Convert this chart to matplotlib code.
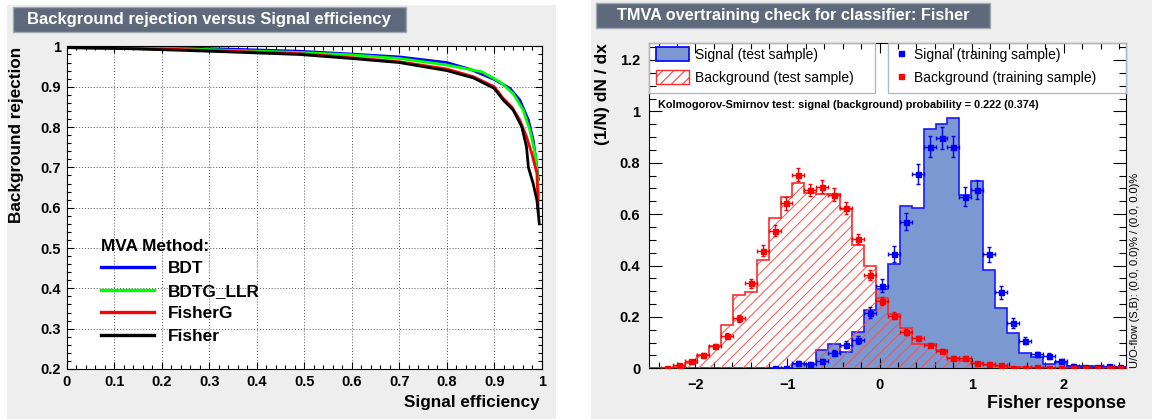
import matplotlib
matplotlib.use('Agg')
import matplotlib.pyplot as plt
import numpy as np
from matplotlib.patches import Rectangle, Patch
from matplotlib.lines import Line2D
from matplotlib.ticker import MultipleLocator, FuncFormatter

plt.rcParams['font.family'] = ['Liberation Sans', 'DejaVu Sans']
plt.rcParams['font.weight'] = 'bold'
plt.rcParams['hatch.linewidth'] = 0.7
plt.rcParams['axes.unicode_minus'] = True

# ---------------- ROC curves (left) ----------------
methods = ['BDT', 'BDTG_LLR', 'FisherG', 'Fisher']
method_colors = ['#0000ff', '#00ff00', '#ff0000', '#000000']

bdt_eff = [0.0, 0.05, 0.14, 0.25, 0.35, 0.49, 0.6, 0.7, 0.8, 0.85, 0.9, 0.933, 0.954, 0.972, 0.982, 0.99, 0.993]
bdt_rej = [1.0, 1.0, 0.999, 0.996, 0.993, 0.988, 0.981, 0.974, 0.96, 0.943, 0.918, 0.896, 0.867, 0.817, 0.768, 0.70, 0.67]

bdtg_eff = [0.0, 0.05, 0.14, 0.25, 0.35, 0.49, 0.6, 0.7, 0.8, 0.874, 0.912, 0.94, 0.961, 0.975, 0.986, 0.991, 0.994]
bdtg_rej = [1.0, 0.998, 0.997, 0.994, 0.99, 0.985, 0.979, 0.97, 0.954, 0.937, 0.912, 0.883, 0.842, 0.793, 0.735, 0.685, 0.623]

fisherg_eff = [0.0, 0.05, 0.14, 0.25, 0.35, 0.49, 0.6, 0.7, 0.8, 0.856, 0.9, 0.919, 0.937, 0.954, 0.968, 0.979, 0.99, 0.993]
fisherg_rej = [0.997, 0.996, 0.995, 0.992, 0.988, 0.982, 0.972, 0.962, 0.944, 0.925, 0.9, 0.871, 0.85, 0.817, 0.776, 0.735, 0.685, 0.587]

fisher_eff = [0.0, 0.05, 0.14, 0.25, 0.35, 0.49, 0.6, 0.7, 0.8, 0.856, 0.9, 0.919, 0.94, 0.958, 0.968, 0.972, 0.982, 0.99, 0.995]
fisher_rej = [0.997, 0.996, 0.994, 0.99, 0.986, 0.98, 0.97, 0.96, 0.94, 0.922, 0.896, 0.867, 0.842, 0.801, 0.751, 0.70, 0.66, 0.618, 0.56]

# ---------------- Overtraining check (right) ----------------
x_min, x_max, n_bins = -2.50, 2.68, 40

sig_test = [0, 0, 0, 0, 0, 0, 0, 0, 0, 0,
            0.002, 0.002, 0.015, 0.017, 0.07, 0.093, 0.064, 0.141, 0.228, 0.31,
            0.405, 0.633, 0.625, 0.93, 0.95, 0.975, 0.675, 0.728, 0.383, 0.234,
            0.136, 0.061, 0.043, 0.016, 0.025, 0.01, 0.008, 0.008, 0.006, 0.005]
bkg_test = [0.0, 0.003, 0.007, 0.022, 0.05, 0.088, 0.169, 0.285, 0.296, 0.42,
            0.584, 0.668, 0.72, 0.683, 0.679, 0.677, 0.62, 0.478, 0.398, 0.272,
            0.211, 0.155, 0.093, 0.093, 0.072, 0.04, 0.03, 0.02, 0.013, 0.009,
            0.005, 0.004, 0.003, 0.002, 0.002, 0.001, 0.001, 0.0, 0.0, 0.0]

nan = np.nan
sig_train = [nan, nan, nan, nan, nan, nan, nan, nan, nan, nan,
             0.0, 0.003, 0.022, 0.017, 0.028, 0.06, 0.092, 0.11, 0.217, 0.322,
             0.445, 0.571, 0.756, 0.863, 0.895, 0.863, 0.668, 0.694, 0.444, 0.295,
             0.175, 0.108, 0.054, 0.048, 0.029, 0.01, 0.006, 0.004, 0.009, 0.004]
sig_err = [0, 0, 0, 0, 0, 0, 0, 0, 0, 0,
           0.001, 0.002, 0.007, 0.006, 0.008, 0.011, 0.014, 0.015, 0.021, 0.026,
           0.03, 0.034, 0.039, 0.042, 0.043, 0.042, 0.037, 0.037, 0.03, 0.024,
           0.019, 0.015, 0.01, 0.01, 0.008, 0.005, 0.003, 0.003, 0.004, 0.003]
bkg_train = [nan, 0.002, 0.012, 0.029, 0.052, 0.087, 0.127, 0.195, 0.331, 0.458,
             0.535, 0.642, 0.753, 0.694, 0.707, 0.675, 0.623, 0.503, 0.363, 0.262,
             0.204, 0.141, 0.117, 0.09, 0.069, 0.042, 0.039, 0.022, 0.017, 0.013,
             0.002, 0.001, 0.006, 0.001, 0.003, 0.0, 0.002, 0.0, 0.002, 0.0]
bkg_err = [0, 0.001, 0.003, 0.005, 0.007, 0.009, 0.011, 0.013, 0.017, 0.02,
           0.022, 0.024, 0.026, 0.025, 0.025, 0.025, 0.024, 0.021, 0.018, 0.015,
           0.014, 0.011, 0.01, 0.009, 0.008, 0.006, 0.006, 0.004, 0.004, 0.003,
           0.001, 0.001, 0.002, 0.001, 0.002, 0.001, 0.001, 0.001, 0.001, 0.001]

ks_text = 'Kolmogorov-Smirnov test: signal (background) probability = 0.222 (0.374)'
uoflow_text = 'U/O-flow (S,B): (0.0, 0.0)% / (0.0, 0.0)%'

# ---------------- layout helpers ----------------
W, H = 1152, 419
def fx(x):
    return x / W
def fy(y):
    return 1 - y / H

fig = plt.figure(figsize=(W / 100, H / 100), dpi=100, facecolor='white')

pad_col = '#eeeeee'
fig.patches.append(Rectangle((fx(7), fy(419)), (556 - 7) / W, (419 - 5) / H,
                             transform=fig.transFigure, fc=pad_col, ec='none', zorder=-10))
fig.patches.append(Rectangle((fx(591), fy(419)), (1152 - 591) / W, 419 / H,
                             transform=fig.transFigure, fc=pad_col, ec='none', zorder=-10))

def title_box(x0, y0, x1, y1, text, size):
    fig.patches.append(Rectangle((fx(x0), fy(y1)), (x1 - x0) / W, (y1 - y0) / H,
                                 transform=fig.transFigure, fc='#5e6a7c', ec='#a0a8b4',
                                 lw=1, zorder=1))
    fig.text(fx((x0 + x1) / 2), fy((y0 + y1) / 2), text, color='white', weight='bold',
             size=size, ha='center', va='center', zorder=2)

title_box(12.5, 7, 406, 32, 'Background rejection versus Signal efficiency', 12.0)
title_box(596, 3, 990, 28, 'TMVA overtraining check for classifier: Fisher', 11.7)

def gfmt(v, pos):
    s = f'{round(v, 3):g}'
    return s.replace('-', '\u2212')

# ---------------- left axes ----------------
ax1 = fig.add_axes([fx(66.7), fy(369), 475 / W, (369 - 46.4) / H])
ax1.set_facecolor('white')
ax1.set_xlim(0, 1)
ax1.set_ylim(0.2, 1.0)
ax1.xaxis.set_major_locator(MultipleLocator(0.1))
ax1.xaxis.set_minor_locator(MultipleLocator(0.02))
ax1.yaxis.set_major_locator(MultipleLocator(0.1))
ax1.yaxis.set_minor_locator(MultipleLocator(0.02))
ax1.xaxis.set_major_formatter(FuncFormatter(gfmt))
ax1.yaxis.set_major_formatter(FuncFormatter(gfmt))
ax1.tick_params(which='both', direction='in', top=True, right=True, width=0.8)
ax1.tick_params(which='major', length=5, labelsize=10.5, pad=4.3)
ax1.tick_params(which='minor', length=2.6)
ax1.grid(True, which='major', ls=(0, (1, 2)), color='#555555', lw=0.7)
for sp in ax1.spines.values():
    sp.set_linewidth(0.8)

roc = [(bdt_eff, bdt_rej), (bdtg_eff, bdtg_rej), (fisherg_eff, fisherg_rej), (fisher_eff, fisher_rej)]
for (e, r), name, c in zip(roc, methods, method_colors):
    ax1.plot(e, r, color=c, lw=2.0, label=name)

leg_handles = [Line2D([], [], color=c, lw=2.4) for c in method_colors]
leg = ax1.legend(leg_handles, methods, title='MVA Method:', loc='upper left',
                 bbox_to_anchor=((101 - 66.7) / 475, 1 - (239 - 46.4) / 322.6),
                 frameon=False, prop=dict(weight='bold', size=12.4),
                 title_fontproperties=dict(weight='bold', size=12.4),
                 handlelength=3.1, handletextpad=0.8, labelspacing=0.43,
                 borderpad=0, borderaxespad=0, alignment='left')

fig.text(fx(17), fy(46.4), 'Background rejection', rotation=90, ha='center', va='top',
         size=12.3, weight='bold')
fig.text(fx(540), fy(395), 'Signal efficiency', ha='right', va='top', size=12.3, weight='bold')

# ---------------- right axes ----------------
ax2 = fig.add_axes([fx(649.3), fy(368.3), 477.1 / W, (368.3 - 43) / H])
ax2.set_facecolor('white')
edges = np.linspace(x_min, x_max, n_bins + 1)
centers = 0.5 * (edges[:-1] + edges[1:])
bw = edges[1] - edges[0]

fill_col = '#7b98d0'
ax2.stairs(sig_test, edges, fill=True, facecolor=fill_col, edgecolor='none', zorder=1)
ax2.stairs(sig_test, edges, color='#1a1aff', lw=1.2, zorder=2)
ax2.bar(centers, bkg_test, width=bw, facecolor='none', edgecolor='#ff4d4d', hatch='///',
        linewidth=0, zorder=3)
ax2.stairs(bkg_test, edges, color='#ff2a2a', lw=1.2, zorder=4)

ax2.errorbar(centers, sig_train, xerr=bw / 2, yerr=sig_err, fmt='s', ms=3.6,
             color='#0000ff', elinewidth=1, capsize=1.5, capthick=1, zorder=5)
ax2.errorbar(centers, bkg_train, xerr=bw / 2, yerr=bkg_err, fmt='s', ms=3.6,
             color='#ff0000', elinewidth=1, capsize=1.5, capthick=1, zorder=5)

ax2.set_xlim(x_min, x_max)
ax2.set_ylim(0, 1.266)
ax2.xaxis.set_major_locator(MultipleLocator(1))
ax2.xaxis.set_minor_locator(MultipleLocator(0.2))
ax2.yaxis.set_major_locator(MultipleLocator(0.2))
ax2.yaxis.set_minor_locator(MultipleLocator(0.05))
ax2.xaxis.set_major_formatter(FuncFormatter(gfmt))
ax2.yaxis.set_major_formatter(FuncFormatter(gfmt))
ax2.tick_params(which='both', direction='in', top=True, right=True, width=0.8)
ax2.tick_params(axis='y', which='major', length=9.4, labelsize=10.5, pad=6.5)
ax2.tick_params(axis='y', which='minor', length=4.8)
ax2.tick_params(axis='x', which='major', length=7, labelsize=10.5, pad=7)
ax2.tick_params(axis='x', which='minor', length=4)
for sp in ax2.spines.values():
    sp.set_linewidth(0.8)

# legends
frame_col = '#b0b8c4'
ax2.add_patch(Rectangle((0, 1 - 50 / 325.3), (875 - 649.3) / 477.1, 50 / 325.3,
                        transform=ax2.transAxes, fc='none', ec=frame_col, lw=1,
                        clip_on=False, zorder=6))
ax2.add_patch(Rectangle(((888 - 649.3) / 477.1, 1 - 50 / 325.3), (1126.4 - 888) / 477.1, 50 / 325.3,
                        transform=ax2.transAxes, fc='none', ec=frame_col, lw=1,
                        clip_on=False, zorder=6))

h1 = [Patch(facecolor=fill_col, edgecolor='#0000ff', lw=1.2),
      Patch(facecolor='none', edgecolor='#ff2a2a', hatch='///', lw=1.0)]
leg1 = ax2.legend(h1, ['Signal (test sample)', 'Background (test sample)'],
                  loc='upper left', bbox_to_anchor=((656 - 649.3) / 477.1, (368.3 - 47) / 325.3),
                  frameon=False, prop=dict(weight='normal', size=10),
                  handlelength=2.37, handleheight=1.22, handletextpad=0.43,
                  labelspacing=0.58, borderpad=0, borderaxespad=0)
ax2.add_artist(leg1)
h2 = [Line2D([], [], marker='s', ms=3.6, ls='none', color='#0000ff'),
      Line2D([], [], marker='s', ms=3.6, ls='none', color='#ff0000')]
leg2 = ax2.legend(h2, ['Signal (training sample)', 'Background (training sample)'],
                  loc='upper left', bbox_to_anchor=((894 - 649.3) / 477.1, (368.3 - 47) / 325.3),
                  frameon=False, prop=dict(weight='normal', size=10),
                  handlelength=1.0, handleheight=1.22, handletextpad=0.43,
                  labelspacing=0.58, borderpad=0, borderaxespad=0)

fig.text(fx(658), fy(105.5), ks_text, ha='left', va='center', size=7.8, weight='bold')
fig.text(fx(1135), fy(368.3), uoflow_text, rotation=90, ha='center', va='bottom',
         size=8, weight='normal')
fig.text(fx(603), fy(43), '(1/N) dN / dx', rotation=90, ha='center', va='top',
         size=12.5, weight='bold')
fig.text(fx(1126), fy(395), 'Fisher response', ha='right', va='top', size=13, weight='bold')

fig.savefig('out.png', dpi=100, facecolor=fig.get_facecolor())
